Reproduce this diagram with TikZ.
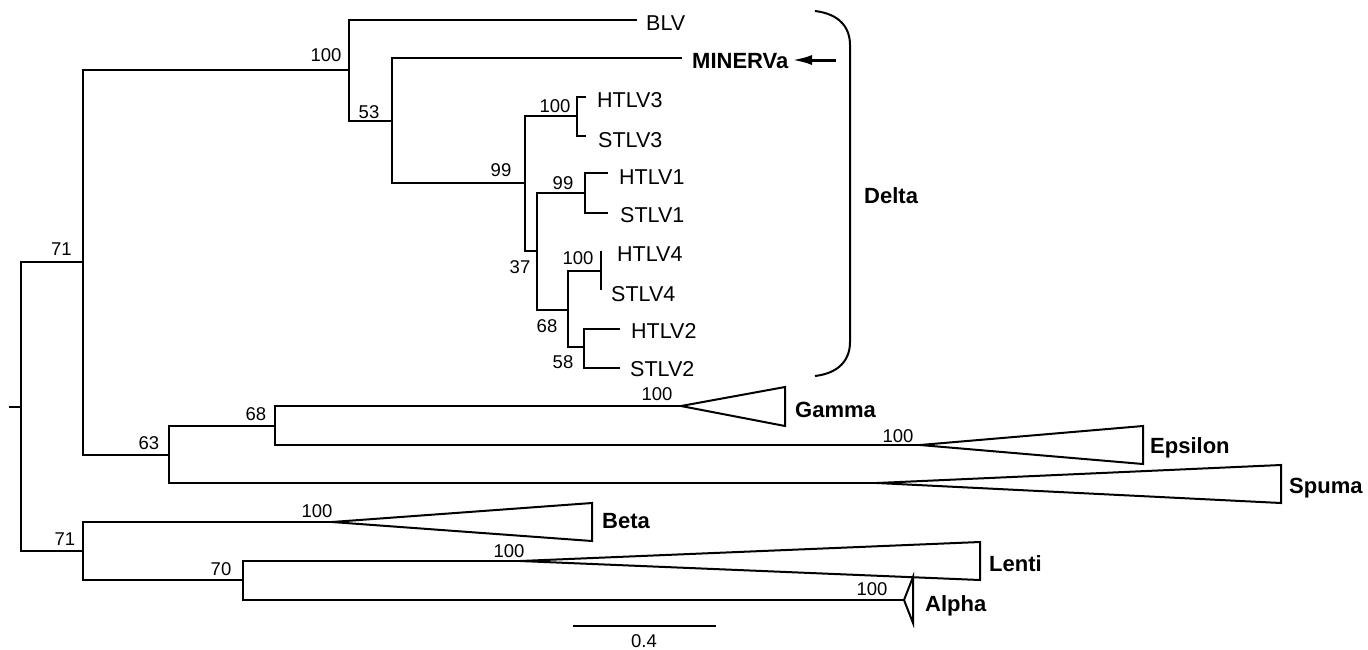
\documentclass[tikz,border=0pt]{standalone}
\usepackage{fontspec}
\setmainfont{Liberation Sans}
\usetikzlibrary{arrows.meta}
\begin{document}
\begin{tikzpicture}[x=1pt,y=-1pt,
  br/.style={line width=2pt,line join=miter},
  tip/.style={font=\fontsize{21.5}{24}\selectfont,anchor=base west,inner sep=0pt},
  clade/.style={font=\fontsize{22}{24}\selectfont\bfseries,anchor=base west,inner sep=0pt},
  bs/.style={font=\fontsize{18.5}{20}\selectfont,anchor=base,inner sep=0pt}]
\useasboundingbox (0,0) rectangle (1368,649);
% internal nodes
\coordinate (stub) at (9,407);
\coordinate (R) at (21,407);
\coordinate (A) at (83,262);
\coordinate (B) at (349,70);
\coordinate (C) at (392,121);
\coordinate (D) at (525,183);
\coordinate (E) at (577,116);
\coordinate (F) at (537,251);
\coordinate (G) at (585,193);
\coordinate (H) at (568,310);
\coordinate (I) at (601,271);
\coordinate (J) at (584,347);
\coordinate (K) at (169,455);
\coordinate (L) at (275,426);
\coordinate (M) at (83,551);
\coordinate (N) at (243,580);
% tip ends
\coordinate (BLVend) at (637,19.5);
\coordinate (MINend) at (682,58);
\coordinate (H3end) at (586,97);
\coordinate (S3end) at (586,136);
\coordinate (H1end) at (608,173);
\coordinate (S1end) at (608,213);
\coordinate (H4end) at (601,251);
\coordinate (S4end) at (601,290);
\coordinate (H2end) at (620,329);
\coordinate (S2end) at (620,368);
% collapsed clades
\coordinate (GaApex) at (681,406);
\coordinate (GaT) at (785,387);
\coordinate (GaB) at (785,426);
\coordinate (EpApex) at (920,445);
\coordinate (EpT) at (1143,426);
\coordinate (EpB) at (1143,464);
\coordinate (SpApex) at (877,483);
\coordinate (SpT) at (1281,465);
\coordinate (SpB) at (1281,503);
\coordinate (BeApex) at (332,522);
\coordinate (BeT) at (592,503);
\coordinate (BeB) at (592,541);
\coordinate (LeApex) at (520,561);
\coordinate (LeT) at (980,542);
\coordinate (LeB) at (980,580);
\coordinate (AlApex) at (904,600);
\coordinate (AlT) at (913,577);
\coordinate (AlB) at (913,623);
% branches
\draw[br] (stub) -- (R);
\draw[br] (A) -| (R) |- (M);
\draw[br] (B) -| (A) |- (K);
\draw[br] (BLVend) -| (B) |- (C);
\draw[br] (MINend) -| (C) |- (D);
\draw[br] (E) -| (D) |- (F);
\draw[br] (H3end) -| (E) |- (S3end);
\draw[br] (G) -| (F) |- (H);
\draw[br] (H1end) -| (G) |- (S1end);
\draw[br] (I) -| (H) |- (J);
\draw[br] (H4end) -- (S4end);
\draw[br] (H2end) -| (J) |- (S2end);
\draw[br] (L) -| (K) |- (SpApex);
\draw[br] (GaApex) -| (L) |- (EpApex);
\draw[br] (BeApex) -| (M) |- (N);
\draw[br] (LeApex) -| (N) |- (AlApex);
% triangles
\draw[br] (GaApex) -- (GaT) -- (GaB) -- cycle;
\draw[br] (EpApex) -- (EpT) -- (EpB) -- cycle;
\draw[br] (SpApex) -- (SpT) -- (SpB) -- cycle;
\draw[br] (BeApex) -- (BeT) -- (BeB) -- cycle;
\draw[br] (LeApex) -- (LeT) -- (LeB) -- cycle;
\draw[br] (AlApex) -- (AlT) -- (AlB) -- cycle;
% tip labels
\node[tip] (tBLV) at (646,30) {BLV};
\node[clade] (tMIN) at (692,68) {MINERVa};
\node[tip] (tH3) at (597,107) {HTLV3};
\node[tip] (tS3) at (598,147) {STLV3};
\node[tip] (tH1) at (619,184) {HTLV1};
\node[tip] (tS1) at (620,222) {STLV1};
\node[tip] (tH4) at (617,261) {HTLV4};
\node[tip] (tS4) at (611,301) {STLV4};
\node[tip] (tH2) at (631,338) {HTLV2};
\node[tip] (tS2) at (630,376) {STLV2};
\node[clade] (tGa) at (795,417) {Gamma};
\node[clade] (tEp) at (1150,453) {Epsilon};
\node[clade] (tSp) at (1289,493) {Spuma};
\node[clade] (tBe) at (602,528) {Beta};
\node[clade] (tLe) at (989,571) {Lenti};
\node[clade] (tAl) at (925,611) {Alpha};
\node[clade] (tDe) at (864,203) {Delta};
% bootstrap values
\node[bs] (bB) at (326,61) {100};
\node[bs] (bC) at (369,118) {53};
\node[bs] (bA) at (61.5,255) {71};
\node[bs] (bD) at (501,176) {99};
\node[bs] (bE) at (555,112) {100};
\node[bs] (bG) at (563,189) {99};
\node[bs] (bF) at (520,273) {37};
\node[bs] (bI) at (578,264) {100};
\node[bs] (bH) at (547,332) {68};
\node[bs] (bJ) at (563,368) {58};
\node[bs] (bGa) at (657,400) {100};
\node[bs] (bL) at (256,420) {68};
\node[bs] (bK) at (149,449) {63};
\node[bs] (bEp) at (898,442) {100};
\node[bs] (bBe) at (317,517) {100};
\node[bs] (bM) at (65,545) {71};
\node[bs] (bN) at (221,575) {70};
\node[bs] (bLe) at (509,557) {100};
\node[bs] (bAl) at (872,595) {100};
% Delta bracket
\coordinate (brT) at (815,11);
\coordinate (brB) at (815,376);
\draw[line width=2pt] (brT) .. controls (840,14) and (850,28) .. (850,45) -- (850,342) .. controls (850,359) and (840,373) .. (brB);
% arrow
\coordinate (arS) at (836,60);
\coordinate (arE) at (792,60);
\draw[line width=3pt,-{Latex[length=20pt,width=10pt]}] (arS) -- (arE);
% scale bar
\coordinate (sbL) at (573,626);
\coordinate (sbR) at (716,626);
\draw[line width=2.5pt] (sbL) -- (sbR);
\node[bs] (sbT) at (644,647.5) {0.4};
\end{tikzpicture}
\end{document}
